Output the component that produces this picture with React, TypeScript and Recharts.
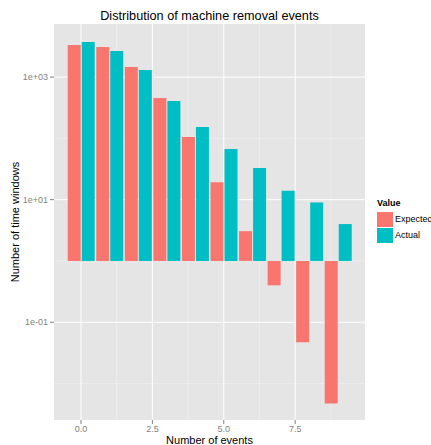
import { BarChart, Bar, XAxis, YAxis, CartesianGrid } from 'recharts';

const events = [0, 1, 2, 3, 4, 5, 6, 7, 8, 9];
const expected = [3330, 3100, 1460, 454, 105, 19.3, 3.06, 0.4, 0.047, 0.0047];
const actual = [3730, 2660, 1300, 406, 153, 67, 33, 14, 9, 4];

const xTicks = [0, 2.5, 5, 7.5];
const xMinor = [1.25, 3.75, 6.25, 8.75];
const yTicks = [0.1, 10, 1000];
const yMinor = [0.01, 1, 100];

const RED = '#F8766D';
const TEAL = '#00BFC4';
const GREY = '#7F7F7F';
const FONT = '"Liberation Sans", Arial, Helvetica, sans-serif';

// bars hang from 1 on the log axis, up or down
const span = (v: number) => [Math.min(1, v), Math.max(1, v)];
const data = events.map((k, i) => ({ k, exp: span(expected[i]), act: span(actual[i]) }));

const fmtLog = (v: number) => {
  const p = Math.round(Math.log10(v));
  return `1e${p < 0 ? '-' : '+'}${String(Math.abs(p)).padStart(2, '0')}`;
};

function LegendBox() {
  const items = [
    { name: 'Expected', color: RED },
    { name: 'Actual', color: TEAL },
  ];
  return (
    <div style={{ position: 'absolute', left: 377, top: 199, fontSize: 9, color: '#000', lineHeight: 1 }}>
      <div style={{ fontWeight: 'bold', height: 10, marginBottom: 3 }}>Value</div>
      {items.map(it => (
        <div key={it.name} style={{ display: 'flex', alignItems: 'center', height: 15, marginBottom: 1 }}>
          <span style={{ width: 16, height: 15, background: it.color, display: 'inline-block', marginRight: 2 }} />
          <span style={{ whiteSpace: 'nowrap' }}>{it.name}</span>
        </div>
      ))}
    </div>
  );
}

export default function App() {
  return (
    <div style={{ position: 'fixed', left: 0, top: 0, width: 431, height: 445, overflow: 'hidden', background: '#fff', fontFamily: FONT }}>
      <div style={{ position: 'absolute', left: 54, width: 311, top: 8, textAlign: 'center', fontSize: 12.7, lineHeight: '16px', color: '#000' }}>
        Distribution of machine removal events
      </div>
      <BarChart
        width={431}
        height={445}
        data={data}
        margin={{ top: 24, right: 66, left: 0, bottom: 0 }}
        barSize={13}
        barGap={1}
      >
        <CartesianGrid
          fill="#E5E5E5"
          stroke="#F2F2F2"
          strokeWidth={0.6}
          horizontalValues={yMinor}
          verticalValues={xMinor}
        />
        <CartesianGrid
          stroke="#FFFFFF"
          strokeWidth={1}
          horizontalValues={yTicks}
          verticalValues={xTicks}
        />
        <XAxis
          dataKey="k"
          type="number"
          domain={[-0.945, 9.945]}
          allowDataOverflow
          ticks={xTicks}
          tickFormatter={(v: number) => v.toFixed(1)}
          axisLine={false}
          tickSize={4}
          tickMargin={2}
          tickLine={{ stroke: GREY }}
          tick={{ fill: GREY, fontSize: 9 }}
          height={25}
          label={{
            content: () => (
              <text x={209.5} y={440} textAnchor="middle" dominantBaseline="central" fontSize={11} fill="#000">
                Number of events
              </text>
            ),
          }}
        />
        <YAxis
          type="number"
          scale="log"
          domain={[0.00254, 7350]}
          allowDataOverflow
          ticks={yTicks}
          tickFormatter={fmtLog}
          axisLine={false}
          tickSize={4}
          tickMargin={2}
          tickLine={{ stroke: GREY }}
          tick={{ fill: GREY, fontSize: 9 }}
          width={54}
          label={{
            content: () => (
              <text
                x={14.5}
                y={222}
                transform="rotate(-90 14.5 222)"
                textAnchor="middle"
                dominantBaseline="central"
                fontSize={11}
                fill="#000"
              >
                Number of time windows
              </text>
            ),
          }}
        />
        <Bar dataKey="exp" name="Expected" fill={RED} isAnimationActive={false} />
        <Bar dataKey="act" name="Actual" fill={TEAL} isAnimationActive={false} />
      </BarChart>
      <LegendBox />
    </div>
  );
}
